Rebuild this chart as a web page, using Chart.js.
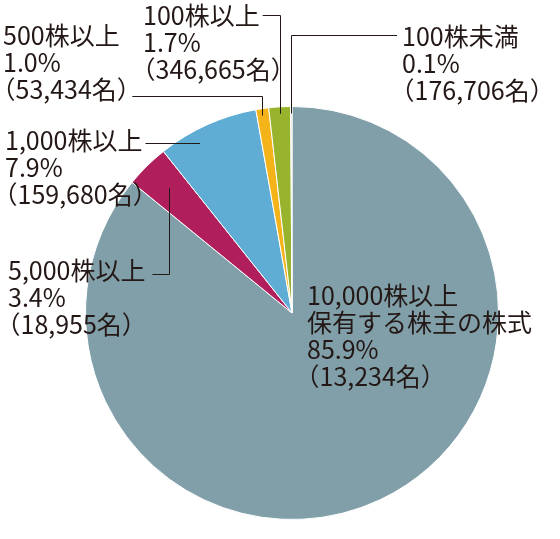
<!DOCTYPE html>
<html lang="ja">
<head>
<meta charset="UTF-8">
<title>所有株式数別株主分布</title>
<script src="https://cdn.jsdelivr.net/npm/chart.js"></script>
<style>
  html, body { margin: 0; padding: 0; background: #ffffff; }
  canvas { display: block; }
</style>
</head>
<body>
<canvas id="pieChart" width="560" height="539"></canvas>
<script>
  // 所有株式数別の構成（時計回り、12時の位置から）
  const categories = ['10,000株以上\n保有する株主の株式', '5,000株以上', '1,000株以上', '500株以上', '100株以上', '100株未満'];
  const shares = [85.9, 3.4, 7.9, 1.0, 1.7, 0.1];
  const holders = ['13,234', '18,955', '159,680', '53,434', '346,665', '176,706'];
  const sliceColors = ['#809fa9', '#b01f5c', '#5fadd5', '#f5b31a', '#97b42c', '#d9d3bd'];

  // ラベルの配置（ベースライン位置と引き出し線の種類）
  const labelLayout = [
    { x: 307, y: 305, leader: null },
    { x: 8, y: 280, line: 0, ly: 274, leader: 'up' },
    { x: 5, y: 150, line: 0, ly: 143, leader: 'flat' },
    { x: 3, y: 45, line: 2, ly: 96, leader: 'down' },
    { x: 143, y: 25, line: 0, ly: 15, leader: 'down' },
    { x: 402, y: 46, line: 0, ly: 35, leader: 'downLeft' }
  ];

  const FONT_SIZE = 25;
  const LINE_H = 27;
  const TEXT_COLOR = '#231815';

  // 全角括弧を詰めて描く（palt 風）
  function drawTight(ctx, text, x, y) {
    const half = FONT_SIZE / 2;
    if (text.startsWith('（') && text.endsWith('）')) {
      const body = text.slice(1, -1);
      const w = ctx.measureText(body).width;
      ctx.fillText('（', x - half, y);
      ctx.fillText(body, x + half, y);
      ctx.fillText('）', x + half + w, y);
      return half + w + half;
    }
    ctx.fillText(text, x, y);
    return ctx.measureText(text).width;
  }

  const leaderPlugin = {
    id: 'leaderLabels',
    afterDatasetsDraw(chart) {
      const ctx = chart.ctx;
      const arcs = chart.getDatasetMeta(0).data;
      ctx.save();
      ctx.font = FONT_SIZE + 'px "Noto Sans CJK JP", "Noto Sans", sans-serif';
      ctx.fillStyle = TEXT_COLOR;
      ctx.strokeStyle = TEXT_COLOR;
      ctx.lineWidth = 1;
      ctx.textBaseline = 'alphabetic';
      ctx.textAlign = 'left';

      arcs.forEach((arc, i) => {
        const pos = labelLayout[i];
        const lines = categories[i].split('\n')
          .concat([shares[i].toFixed(1) + '%', '（' + holders[i] + '名）']);
        const widths = lines.map((t, k) => drawTight(ctx, t, pos.x, pos.y + k * LINE_H));
        if (!pos.leader) return;

        const p = arc.getProps(['x', 'y', 'startAngle', 'endAngle', 'outerRadius'], true);
        const mid = (p.startAngle + p.endAngle) / 2;
        const r = p.outerRadius;
        const ly = Math.round(pos.ly) + 0.5;
        const right = pos.x + widths[pos.line] + 3;
        ctx.beginPath();
        if (pos.leader === 'down' || pos.leader === 'downLeft') {
          const tx = Math.round(p.x + r * Math.cos(mid)) + 0.5;
          const ty = p.y - Math.sqrt(r * r - (tx - p.x) * (tx - p.x)) + 7;
          ctx.moveTo(pos.leader === 'down' ? right : pos.x - 5, ly);
          ctx.lineTo(tx, ly);
          ctx.lineTo(tx, ty);
        } else if (pos.leader === 'up') {
          const tx = Math.round(p.x + 0.85 * r * Math.cos(mid)) + 0.5;
          const ty = p.y + 0.85 * r * Math.sin(mid);
          ctx.moveTo(right + 4, ly);
          ctx.lineTo(tx, ly);
          ctx.lineTo(tx, ty);
        } else {
          const edge = p.x - Math.sqrt(r * r - (ly - p.y) * (ly - p.y));
          ctx.moveTo(right, ly);
          ctx.lineTo(edge + 26, ly);
        }
        ctx.stroke();
      });
      ctx.restore();
    }
  };

  const pieChart = new Chart(document.getElementById('pieChart'), {
    type: 'pie',
    data: {
      labels: categories,
      datasets: [{
        data: shares,
        backgroundColor: sliceColors,
        borderColor: '#ffffff',
        borderWidth: 1
      }]
    },
    options: {
      responsive: false,
      animation: false,
      layout: { padding: { left: 85, right: 61, top: 106, bottom: 19 } },
      plugins: {
        legend: { display: false },
        tooltip: { enabled: false }
      }
    },
    plugins: [leaderPlugin]
  });
</script>
</body>
</html>
